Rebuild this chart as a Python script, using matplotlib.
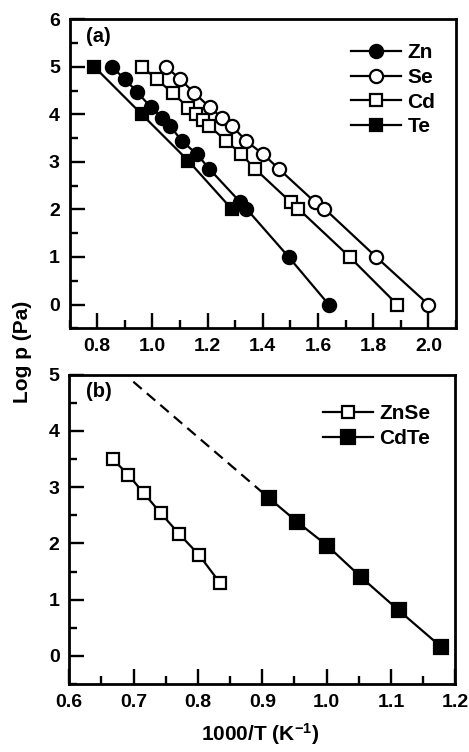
import numpy as np
import matplotlib
matplotlib.use('Agg')
import matplotlib.pyplot as plt
import matplotlib as mpl
from matplotlib.ticker import MultipleLocator

#Specify the plot style
mpl.rcParams['font.family'] = 'Liberation Sans'
mpl.rcParams['font.weight'] = 'bold'
mpl.rcParams['font.size'] = 14
mpl.rcParams['mathtext.fontset'] = 'custom'
mpl.rcParams['mathtext.rm'] = 'Liberation Sans:bold'
mpl.rcParams['mathtext.bf'] = 'Liberation Sans:bold'
mpl.rcParams['mathtext.default'] = 'bf'
mpl.rcParams['xtick.direction'] = 'in'
mpl.rcParams['ytick.direction'] = 'in'
mpl.rcParams['xtick.major.size'] = 11
mpl.rcParams['xtick.minor.size'] = 6
mpl.rcParams['ytick.major.size'] = 11
mpl.rcParams['ytick.minor.size'] = 6
mpl.rcParams['xtick.major.width'] = 1.7
mpl.rcParams['xtick.minor.width'] = 1.7
mpl.rcParams['ytick.major.width'] = 1.7
mpl.rcParams['ytick.minor.width'] = 1.7
mpl.rcParams['xtick.major.pad'] = 7
mpl.rcParams['ytick.major.pad'] = 7
mpl.rcParams['axes.linewidth'] = 2.0

# panel (a): elemental vapour pressures
zn_x = [0.853, 0.90, 0.945, 0.995, 1.035, 1.064, 1.107, 1.162, 1.207, 1.319, 1.34, 1.494, 1.639]
zn_y = [5.0, 4.745, 4.47, 4.15, 3.93, 3.76, 3.44, 3.16, 2.85, 2.15, 2.02, 1.0, 0.0]
se_x = [1.05, 1.10, 1.152, 1.208, 1.252, 1.29, 1.34, 1.402, 1.459, 1.59, 1.623, 1.811, 2.0]
se_y = [5.0, 4.745, 4.45, 4.15, 3.93, 3.75, 3.44, 3.16, 2.85, 2.15, 2.02, 1.0, 0.0]
cd_x = [0.963, 1.016, 1.075, 1.131, 1.157, 1.182, 1.207, 1.268, 1.323, 1.371, 1.502, 1.528, 1.715, 1.887]
cd_y = [5.0, 4.74, 4.44, 4.14, 4.0, 3.88, 3.75, 3.44, 3.16, 2.86, 2.15, 2.02, 1.0, 0.0]
te_x = [0.79, 0.962, 1.131, 1.289]
te_y = [5.0, 4.0, 3.02, 2.0]

# panel (b): compounds
znse_x = [0.6675, 0.692, 0.716, 0.742, 0.771, 0.802, 0.834]
znse_y = [3.50, 3.215, 2.89, 2.54, 2.165, 1.79, 1.30]
cdte_x = [0.911, 0.954, 1.001, 1.054, 1.112, 1.178]
cdte_y = [2.80, 2.385, 1.96, 1.395, 0.81, 0.16]
extrap_x = [0.6995, 0.911]
extrap_y = [4.875, 2.80]

W, H = 469, 752
fig = plt.figure(figsize=(W/100, H/100), dpi=100)

def box(l, r, t, b):
    return [l/W, 1-b/H, (r-l)/W, (b-t)/H]

ax1 = fig.add_axes(box(69.5, 456, 19.3, 328.3))
ax2 = fig.add_axes(box(69.3, 455.3, 374.7, 684))

mk = dict(color='k', lw=1.6, mew=1.6, mec='k')
ax1.plot(zn_x, zn_y, marker='o', ms=9.5, mfc='k', label='Zn', **mk)
ax1.plot(se_x, se_y, marker='o', ms=9.5, mfc='white', label='Se', **mk)
ax1.plot(cd_x, cd_y, marker='s', ms=8.5, mfc='white', label='Cd', **mk)
ax1.plot(te_x, te_y, marker='s', ms=9, mfc='k', label='Te', **mk)

ax1.set_xlim(0.7, 2.1)
ax1.set_ylim(-0.5, 6)
ax1.xaxis.set_major_locator(MultipleLocator(0.2))
ax1.xaxis.set_minor_locator(MultipleLocator(0.1))
ax1.yaxis.set_major_locator(MultipleLocator(1))
ax1.yaxis.set_minor_locator(MultipleLocator(0.5))
ax1.xaxis.set_major_formatter(mpl.ticker.FormatStrFormatter('%.1f'))
ax1.text(98.3/W, 1-36.7/H, '(a)', transform=fig.transFigure, ha='center', va='center', fontsize=14.5)
ax1.legend(loc='upper left', bbox_to_anchor=(351/W, 1-43/H), bbox_transform=fig.transFigure,
           frameon=False, handlelength=2.4, handletextpad=0.3, labelspacing=0.28, borderpad=0,
           borderaxespad=0, fontsize=15)

ax2.plot(extrap_x, extrap_y, color='k', lw=1.6, ls=(0, (5, 3)))
ax2.plot(znse_x, znse_y, marker='s', ms=8.5, mfc='white', label='ZnSe', **mk)
ax2.plot(cdte_x, cdte_y, marker='s', ms=9.5, mfc='k', label='CdTe', **mk)
ax2.set_xlim(0.6, 1.2)
ax2.set_ylim(-0.5, 5)
ax2.xaxis.set_major_locator(MultipleLocator(0.1))
ax2.xaxis.set_minor_locator(MultipleLocator(0.05))
ax2.yaxis.set_major_locator(MultipleLocator(1))
ax2.yaxis.set_minor_locator(MultipleLocator(0.5))
ax2.xaxis.set_major_formatter(mpl.ticker.FormatStrFormatter('%.1f'))
ax2.text(99/W, 1-391.7/H, '(b)', transform=fig.transFigure, ha='center', va='center', fontsize=14.5)
ax2.legend(loc='upper left', bbox_to_anchor=(323/W, 1-404/H), bbox_transform=fig.transFigure,
           frameon=False, handlelength=2.4, handletextpad=0.3, labelspacing=0.28, borderpad=0,
           borderaxespad=0, fontsize=15)

for ax in (ax1, ax2):
    ax.tick_params(which='both', top=False, right=False)

fig.text(22/W, 1-352/H, 'Log p (Pa)', rotation=90, ha='center', va='center', fontsize=15)
fig.text(260/W, 1-734/H, r'1000/T (K$^{-1}$)', ha='center', va='center', fontsize=15)

plt.savefig('out.png', dpi=100)
